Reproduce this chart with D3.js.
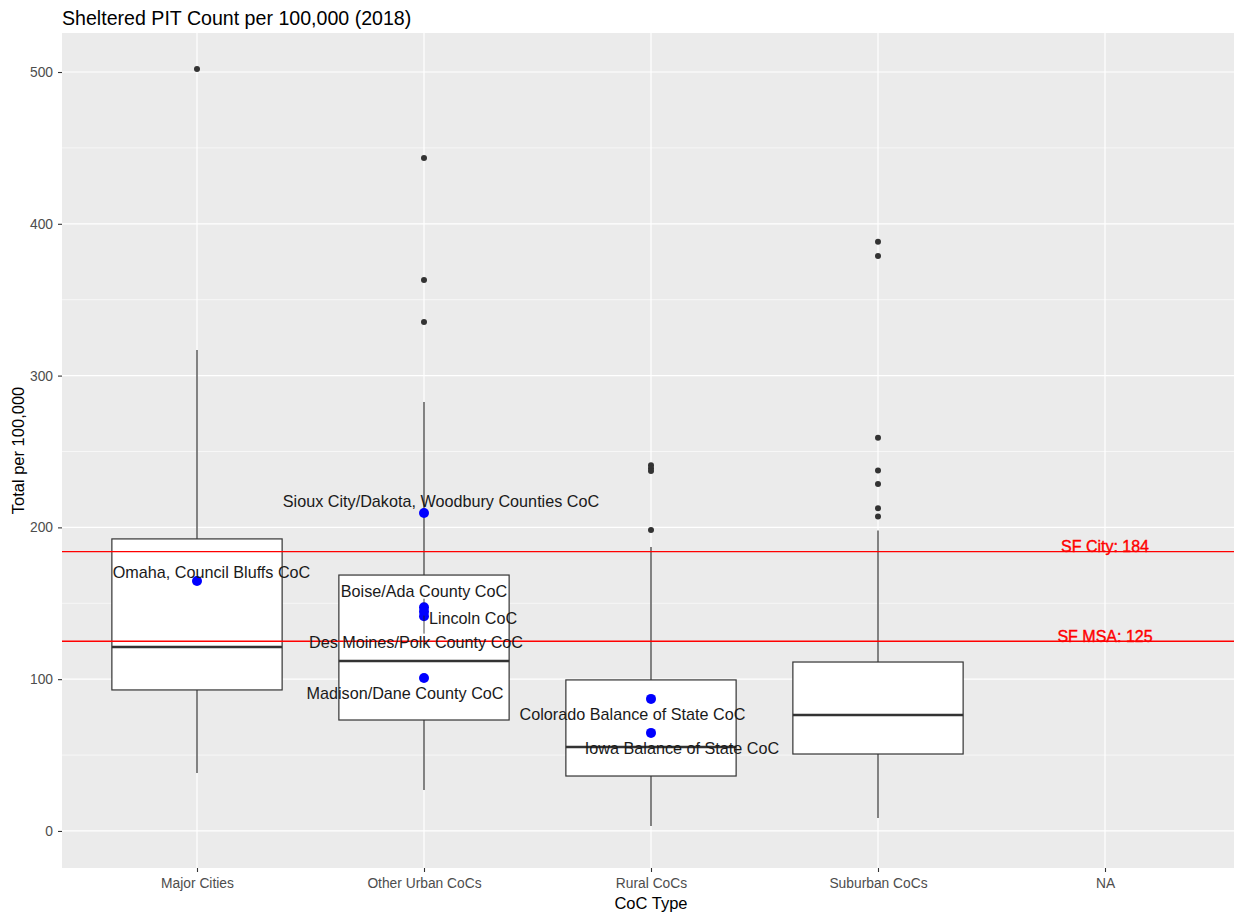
<!DOCTYPE html>
<html>
<head>
<meta charset="utf-8">
<script src="https://cdn.jsdelivr.net/npm/d3@7"></script>
<style>
  html, body { margin: 0; padding: 0; background: #fff; }
  svg { display: block; font-family: "Liberation Sans", Arial, sans-serif; }
</style>
</head>
<body>
<svg id="chart" width="1234" height="915"></svg>
<script>
// ---- data ---------------------------------------------------------------
const categories = ["Major Cities", "Other Urban CoCs", "Rural CoCs", "Suburban CoCs", "NA"];

// five-number summaries per CoC type: lower whisker, Q1, median, Q3, upper whisker
const boxCategories = ["Major Cities", "Other Urban CoCs", "Rural CoCs", "Suburban CoCs"];
const whiskerLow  = [38.2, 27.0, 3.3, 8.6];
const quartile1   = [92.9, 73.1, 36.2, 50.7];
const medians     = [121.2, 112.0, 55.3, 76.4];
const quartile3   = [192.4, 168.6, 99.5, 111.3];
const whiskerHigh = [316.9, 282.6, 187.0, 198.0];

// outlying CoCs
const outlierCategory = ["Major Cities",
  "Other Urban CoCs", "Other Urban CoCs", "Other Urban CoCs",
  "Rural CoCs", "Rural CoCs", "Rural CoCs", "Rural CoCs",
  "Suburban CoCs", "Suburban CoCs", "Suburban CoCs", "Suburban CoCs",
  "Suburban CoCs", "Suburban CoCs", "Suburban CoCs"];
const outlierValue = [502.0,
  443.3, 363.0, 335.3,
  241.0, 239.0, 237.2, 198.3,
  388.2, 378.8, 259.1, 237.4, 228.6, 212.6, 207.1];

// highlighted CoCs
const highlightNames = ["Sioux City/Dakota, Woodbury Counties CoC", "Omaha, Council Bluffs CoC",
  "Boise/Ada County CoC", "Lincoln CoC", "Des Moines/Polk County CoC", "Madison/Dane County CoC",
  "Colorado Balance of State CoC", "Iowa Balance of State CoC"];
const highlightCategory = ["Other Urban CoCs", "Major Cities",
  "Other Urban CoCs", "Other Urban CoCs", "Other Urban CoCs", "Other Urban CoCs",
  "Rural CoCs", "Rural CoCs"];
const highlightValue = [209.5, 164.7, 147.4, 141.5, 144.5, 100.8, 87.0, 64.6];

// San Francisco reference levels
const refNames  = ["SF City", "SF MSA"];
const refValues = [184, 125];

const yTicks = [0, 100, 200, 300, 400, 500];
const yMinorTicks = [50, 150, 250, 350, 450];

// ---- layout -------------------------------------------------------------
const panel = { left: 62, right: 1234, top: 33, bottom: 868 };
// repelled label placement (pixel offsets of label centre from its point)
const labelNudge = [[17, -12], [14.5, -9], [0, -16.5], [49, 1.5], [-8, 30], [-19, 15], [-18.5, 15], [31, 15]];

const svg = d3.select("#chart");

const x = d3.scalePoint().domain(categories).range([197, 1105]);
const step = x.step();
const y = d3.scaleLinear().domain([-24.4, 525.7]).range([panel.bottom, panel.top]);

// panel background
svg.append("rect")
  .attr("x", panel.left).attr("y", panel.top)
  .attr("width", panel.right - panel.left).attr("height", panel.bottom - panel.top)
  .attr("fill", "#EBEBEB");

const grid = svg.append("g");
grid.selectAll(".minor").data(yMinorTicks).enter().append("line")
  .attr("x1", panel.left).attr("x2", panel.right)
  .attr("y1", d => y(d)).attr("y2", d => y(d))
  .attr("stroke", "#fff").attr("stroke-width", 0.6);
grid.selectAll(".majorY").data(yTicks).enter().append("line")
  .attr("x1", panel.left).attr("x2", panel.right)
  .attr("y1", d => y(d)).attr("y2", d => y(d))
  .attr("stroke", "#fff").attr("stroke-width", 1.2);
grid.selectAll(".majorX").data(categories).enter().append("line")
  .attr("y1", panel.top).attr("y2", panel.bottom)
  .attr("x1", d => x(d)).attr("x2", d => x(d))
  .attr("stroke", "#fff").attr("stroke-width", 1.2);

// boxplots
const boxes = boxCategories.map((c, i) => ({
  cat: c, lo: whiskerLow[i], q1: quartile1[i], med: medians[i], q3: quartile3[i], hi: whiskerHigh[i]
}));
const halfW = step * 0.75 / 2;
const bx = svg.append("g").selectAll("g").data(boxes).enter().append("g");
bx.append("line")
  .attr("x1", d => x(d.cat)).attr("x2", d => x(d.cat))
  .attr("y1", d => y(d.q3)).attr("y2", d => y(d.hi))
  .attr("stroke", "#333").attr("stroke-width", 1.2);
bx.append("line")
  .attr("x1", d => x(d.cat)).attr("x2", d => x(d.cat))
  .attr("y1", d => y(d.q1)).attr("y2", d => y(d.lo))
  .attr("stroke", "#333").attr("stroke-width", 1.2);
bx.append("rect")
  .attr("x", d => x(d.cat) - halfW).attr("width", halfW * 2)
  .attr("y", d => y(d.q3)).attr("height", d => y(d.q1) - y(d.q3))
  .attr("fill", "#fff").attr("stroke", "#333").attr("stroke-width", 1.2);
bx.append("line")
  .attr("x1", d => x(d.cat) - halfW).attr("x2", d => x(d.cat) + halfW)
  .attr("y1", d => y(d.med)).attr("y2", d => y(d.med))
  .attr("stroke", "#333").attr("stroke-width", 2.4);

// outliers
svg.append("g").selectAll("circle").data(outlierValue).enter().append("circle")
  .attr("cx", (d, i) => x(outlierCategory[i]))
  .attr("cy", d => y(d))
  .attr("r", 3).attr("fill", "#333");

// reference lines
svg.append("g").selectAll("line").data(refValues).enter().append("line")
  .attr("x1", panel.left).attr("x2", panel.right)
  .attr("y1", d => y(d)).attr("y2", d => y(d))
  .attr("stroke", "#FF0000").attr("stroke-width", 1.4);

// highlighted points
const hl = highlightNames.map((n, i) => ({
  name: n, cx: x(highlightCategory[i]), cy: y(highlightValue[i]),
  dx: labelNudge[i][0], dy: labelNudge[i][1]
}));
svg.append("g").selectAll("circle").data(hl).enter().append("circle")
  .attr("cx", d => d.cx).attr("cy", d => d.cy)
  .attr("r", 5).attr("fill", "#0000FF");

// labels with connector segments where the label sits away from its point
const lblG = svg.append("g");
const labels = lblG.selectAll("text").data(hl).enter().append("text")
  .attr("x", d => d.cx + d.dx).attr("y", d => d.cy + d.dy)
  .attr("text-anchor", "middle").attr("dominant-baseline", "central")
  .attr("font-size", 16.2).attr("fill", "#1a1a1a")
  .text(d => d.name);
labels.each(function (d) {
  const b = this.getBBox();
  const top = d.cy + d.dy - 8, bottom = d.cy + d.dy + 8;
  const px = Math.max(b.x, Math.min(d.cx, b.x + b.width));
  const py = Math.max(top, Math.min(d.cy, bottom));
  const dist = Math.hypot(d.cx - px, d.cy - py);
  if (dist > 8) {
    const t = (dist - 4) / dist;
    lblG.insert("line", "text")
      .attr("x1", px).attr("y1", py)
      .attr("x2", px + (d.cx - px) * t).attr("y2", py + (d.cy - py) * t)
      .attr("stroke", "#1a1a1a").attr("stroke-width", 0.8);
  }
});

// reference labels
svg.append("g").selectAll("text").data(refValues).enter().append("text")
  .attr("x", x("NA")).attr("y", d => y(d) - 5)
  .attr("text-anchor", "middle").attr("dominant-baseline", "central")
  .attr("font-size", 16).attr("fill", "#FF0000")
  .attr("stroke", "#FF0000").attr("stroke-width", 0.4)
  .text((d, i) => `${refNames[i]}: ${d}`);

// axes
const yAxis = svg.append("g").attr("transform", `translate(${panel.left},0)`)
  .call(d3.axisLeft(y).tickValues(yTicks).tickSize(4).tickPadding(5).tickFormat(d3.format("d")));
const xAxis = svg.append("g").attr("transform", `translate(0,${panel.bottom})`)
  .call(d3.axisBottom(x).tickSize(4).tickPadding(6));
[yAxis, xAxis].forEach(a => {
  a.select(".domain").remove();
  a.selectAll(".tick line").attr("stroke", "#333").attr("stroke-width", 1.1);
  a.selectAll(".tick text").attr("fill", "#4D4D4D").attr("font-size", 13.8)
    .attr("font-family", "Liberation Sans, Arial, sans-serif");
});

// titles
svg.append("text").attr("x", 62).attr("y", 25)
  .attr("font-size", 19.6).attr("fill", "#000")
  .text("Sheltered PIT Count per 100,000 (2018)");
svg.append("text").attr("x", 651).attr("y", 909)
  .attr("text-anchor", "middle").attr("font-size", 16.5).attr("fill", "#000")
  .text("CoC Type");
svg.append("text")
  .attr("transform", `translate(24,${(panel.top + panel.bottom) / 2}) rotate(-90)`)
  .attr("text-anchor", "middle").attr("font-size", 16.5).attr("fill", "#000")
  .text("Total per 100,000");
</script>
</body>
</html>
